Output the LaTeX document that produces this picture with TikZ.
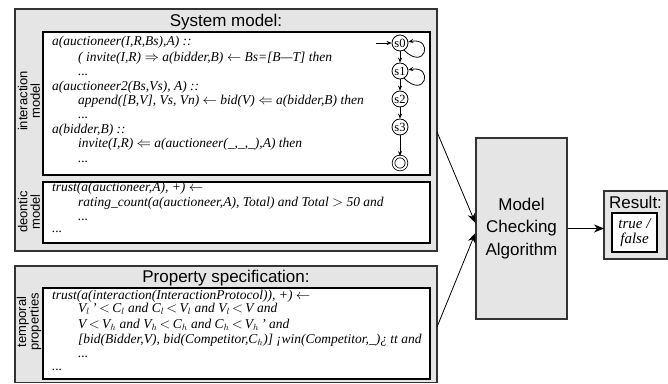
\documentclass[tikz,border=0pt]{standalone}
\usepackage{fontspec}
\setmainfont{Liberation Serif}
\setsansfont{Liberation Sans}
\usetikzlibrary{arrows.meta,calc}
\definecolor{boxgray}{HTML}{E5E5E5}
\definecolor{edgegray}{HTML}{333333}
\begin{document}
\begin{tikzpicture}[x=1pt,y=1pt,
  outerbox/.style={draw=edgegray,fill=boxgray,line width=1.3pt,inner sep=0pt,outer sep=0pt,anchor=north west},
  innerbox/.style={draw=black,fill=white,line width=1.1pt,inner sep=0pt,outer sep=0pt,anchor=north west},
  codeline/.style={font=\fontsize{13.5}{14}\selectfont\itshape,anchor=base west,inner sep=0pt,text height=9pt,text depth=2.5pt},
  boxtitle/.style={font=\sffamily\fontsize{17}{20}\selectfont,inner sep=0pt,text height=12pt,text depth=0pt},
  sidelabel/.style={font=\sffamily\fontsize{13}{12.5}\selectfont,rotate=90,align=center,inner sep=0pt},
  state/.style={circle,draw=black,line width=0.8pt,minimum size=16pt,inner sep=0pt,font=\fontsize{12.5}{12}\selectfont},
  arr/.style={-{Stealth[length=10pt,width=8pt]},line width=0.8pt},
  sarr/.style={-{Stealth[length=5pt,width=4pt]},line width=0.8pt}
]
\useasboundingbox (0,0) rectangle (668,383);

% System model
\node[outerbox,minimum width=422pt,minimum height=242pt] (sys) at (15,374) {};
\node[boxtitle] (systitle) at (226,362.5) {System model:};
\node[innerbox,minimum width=387pt,minimum height=143pt] (inter) at (43,351) {};
\node[innerbox,minimum width=387pt,minimum height=61pt] (deon) at (43,201) {};
\node[sidelabel] (interlab) at (29,282) {interaction\\model};
\node[sidelabel] (deonlab) at (29,171) {deontic\\model};

\node[codeline] (i1) at (52,337) {a(auctioneer(I,R,Bs),A) ::};
\node[codeline] (i2) at (78,321.6) {( invite(I,R) $\Rightarrow$ a(bidder,B) $\leftarrow$ Bs=[B---T] then};
\node[codeline] (i3) at (78,307.2) {...};
\node[codeline] (i4) at (52,292.8) {a(auctioneer2(Bs,Vs), A) ::};
\node[codeline] (i5) at (78,278.4) {append([B,V], Vs, Vn) $\leftarrow$ bid(V) $\Leftarrow$ a(bidder,B) then};
\node[codeline] (i6) at (78,264) {...};
\node[codeline] (i7) at (52,249.6) {a(bidder,B) ::};
\node[codeline] (i8) at (78,235.2) {invite(I,R) $\Leftarrow$ a(auctioneer(\_,\_,\_),A) then};
\node[codeline] (i9) at (78,220.8) {...};

\node[codeline] (d1) at (52,191) {trust(a(auctioneer,A), +) $\leftarrow$};
\node[codeline] (d2) at (78,176.5) {rating\_count(a(auctioneer,A), Total) and Total $>$ 50 and};
\node[codeline] (d3) at (78,163) {...};
\node[codeline] (d4) at (52,151) {...};

% state machine
\node[state] (s0) at (400,340) {s0};
\node[state] (s1) at (400,312) {s1};
\node[state] (s2) at (400,284) {s2};
\node[state] (s3) at (400,256) {s3};
\node[state,double,double distance=1.8pt,minimum size=13pt] (sf) at (400,220) {};
\coordinate (sinit) at (376,340);
\draw[sarr] (sinit) -- (s0);
\draw[sarr] (s0) -- (s1);
\draw[sarr] (s1) -- (s2);
\draw[sarr] (s2) -- (s3);
\draw[sarr] (s3) -- (sf);
\draw[sarr] (s0.-60) .. controls +(-45:30) and +(10:26) .. (s0.8);
\draw[sarr] (s1.-60) .. controls +(-45:30) and +(10:26) .. (s1.8);

% Property specification
\node[outerbox,minimum width=422pt,minimum height=116.5pt] (prop) at (15,117) {};
\node[boxtitle] (proptitle) at (226,106.5) {Property specification:};
\node[innerbox,minimum width=387pt,minimum height=91pt] (temp) at (43,95) {};
\node[sidelabel] (templab) at (29,61) {temporal\\properties};

\node[codeline] (p1) at (52,83.5) {trust(a(interaction(InteractionProtocol)), +) $\leftarrow$};
\node[codeline] (p2) at (78,70.5) {V$_l$\,'$\,<\,$C$_l$ and C$_l$\,$<$\,V$_l$ and V$_l$\,$<$\,V and};
\node[codeline] (p3) at (78,55) {V$\,<\,$V$_h$ and V$_h$\,$<$\,C$_h$ and C$_h$\,$<$\,V$_h$\,' and};
\node[codeline] (p4) at (78,40) {[bid(Bidder,V), bid(Competitor,C$_h$)] ¡win(Competitor,\_)¿ tt and};
\node[codeline] (p5) at (78,26) {...};
\node[codeline] (p6) at (52,13) {...};

% Model checking
\node[draw=edgegray,fill=boxgray,line width=1.3pt,minimum width=91pt,minimum height=181pt,inner sep=0pt,
      font=\sffamily\fontsize{17}{22.5}\selectfont,align=center] (mc) at (521.5,154.5) {Model\\Checking\\Algorithm};

% Result
\node[outerbox,minimum width=63pt,minimum height=68pt] (res) at (604,192) {};
\node[font=\sffamily\fontsize{17}{20}\selectfont,inner sep=0pt] (restitle) at (635.5,181) {Result:};
\node[innerbox,minimum width=45pt,minimum height=39pt,align=center,
      font=\fontsize{15}{15}\selectfont\itshape] (resval) at (612,170) {true /\\false};

% connectors
\draw[arr] ([yshift=-123pt]sys.north east) -- ([yshift=5.5pt]mc.west);
\draw[arr] ([yshift=-61pt]prop.north east) -- ([yshift=-4.5pt]mc.west);
\draw[arr] (mc.east) -- (mc.east -| res.west);
\end{tikzpicture}
\end{document}
